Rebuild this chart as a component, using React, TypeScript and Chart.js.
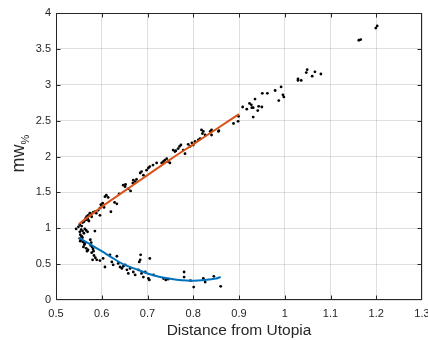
import React, { useEffect, useRef } from "react";
import { Chart, registerables } from "chart.js";

Chart.register(...registerables);

const xTickValues = [0.5, 0.6, 0.7, 0.8, 0.9, 1.0, 1.1, 1.2, 1.3];
const yTickValues = [0, 0.5, 1, 1.5, 2, 2.5, 3, 3.5, 4];
const xTickLabels = ["0.5", "0.6", "0.7", "0.8", "0.9", "1", "1.1", "1.2", "1.3"];
const yTickLabels = ["0", "0.5", "1", "1.5", "2", "2.5", "3", "3.5", "4"];

const xTitle = "Distance from Utopia";
const yTitleMain = "mw";
const yTitleSub = "%";

// Upper branch observations
const upperX = [
  0.544, 0.549, 0.552, 0.556, 0.558, 0.561, 0.563, 0.565, 0.566, 0.567, 0.569, 0.570, 0.571, 0.572, 0.574,
  0.576, 0.578, 0.581, 0.585, 0.588, 0.592, 0.596, 0.598, 0.600, 0.602, 0.605, 0.596, 0.607, 0.610, 0.614,
  0.620, 0.628, 0.633, 0.638, 0.647, 0.651, 0.652, 0.658, 0.663, 0.668, 0.669, 0.673, 0.676, 0.684, 0.687,
  0.691, 0.698, 0.702, 0.705, 0.712, 0.720, 0.731, 0.735, 0.738, 0.742, 0.745, 0.749, 0.756, 0.760, 0.762,
  0.767, 0.770, 0.773, 0.778, 0.782, 0.789, 0.793, 0.797, 0.800, 0.804, 0.811, 0.815, 0.818, 0.820, 0.822,
  0.826, 0.837, 0.840, 0.840, 0.855, 0.856, 0.888, 0.898, 0.899, 0.908, 0.917, 0.923, 0.927, 0.928, 0.931,
  0.931, 0.935, 0.941, 0.943, 0.950, 0.951, 0.962, 0.979, 0.987, 0.992, 0.996, 0.998, 1.029, 1.029, 1.036,
  1.047, 1.049, 1.060, 1.066, 1.079, 1.162, 1.166, 1.199, 1.202,
];
const upperY = [
  0.99, 1.02, 1.05, 1.03, 1.08, 1.09, 1.11, 1.14, 1.12, 1.16, 1.14, 1.18, 1.11, 1.10, 1.21,
  1.20, 1.16, 1.22, 1.23, 1.21, 1.25, 1.28, 1.33, 1.31, 1.35, 1.29, 1.18, 1.44, 1.46, 1.43,
  1.23, 1.36, 1.34, 1.48, 1.60, 1.58, 1.61, 1.55, 1.52, 1.63, 1.67, 1.65, 1.68, 1.77, 1.79,
  1.74, 1.81, 1.84, 1.86, 1.88, 1.91, 1.91, 1.93, 1.95, 1.97, 1.93, 1.91, 2.09, 2.07, 2.08,
  2.11, 2.14, 2.16, 2.09, 2.04, 2.17, 2.14, 2.19, 2.16, 2.21, 2.23, 2.25, 2.37, 2.32, 2.35,
  2.30, 2.35, 2.37, 2.30, 2.35, 2.36, 2.46, 2.49, 2.56, 2.69, 2.66, 2.74, 2.72, 2.68, 2.68,
  2.55, 2.80, 2.64, 2.70, 2.69, 2.88, 2.88, 2.92, 2.78, 2.97, 2.86, 2.83, 3.08, 3.06, 3.06,
  3.17, 3.21, 3.12, 3.18, 3.15, 3.62, 3.63, 3.79, 3.82,
];

// Lower branch observations
const lowerX = [
  0.552, 0.555, 0.558, 0.561, 0.563, 0.566, 0.569, 0.553, 0.556, 0.552, 0.555, 0.558, 0.553, 0.559, 0.562,
  0.560, 0.563, 0.566, 0.568, 0.570, 0.575, 0.577, 0.576, 0.579, 0.581, 0.578, 0.582, 0.585, 0.583, 0.586,
  0.589, 0.580, 0.596, 0.603, 0.607, 0.618, 0.622, 0.625, 0.633, 0.636, 0.640, 0.644, 0.647, 0.651, 0.655,
  0.658, 0.662, 0.669, 0.673, 0.680, 0.682, 0.684, 0.685, 0.687, 0.691, 0.695, 0.702, 0.704, 0.705, 0.713,
  0.735, 0.740, 0.745, 0.780, 0.780, 0.794, 0.801, 0.822, 0.826, 0.845, 0.860,
];
const lowerY = [
  0.95, 0.98, 0.96, 0.93, 0.99, 0.97, 0.95, 0.91, 0.89, 0.86, 0.84, 0.87, 0.82, 0.81, 0.77,
  0.74, 0.79, 0.72, 0.68, 0.70, 0.84, 0.80, 0.76, 0.74, 0.71, 0.66, 0.68, 0.96, 0.62, 0.59,
  0.56, 0.56, 0.55, 0.58, 0.46, 0.63, 0.53, 0.49, 0.61, 0.51, 0.46, 0.44, 0.47, 0.49, 0.42,
  0.37, 0.44, 0.39, 0.35, 0.42, 0.53, 0.56, 0.63, 0.37, 0.32, 0.39, 0.30, 0.28, 0.58, 0.35,
  0.30, 0.28, 0.29, 0.39, 0.32, 0.27, 0.18, 0.30, 0.25, 0.33, 0.19,
];

// Fitted curves
const fitUpperX = [0.55, 0.575, 0.6, 0.65, 0.7, 0.75, 0.8, 0.85, 0.9];
const fitUpperY = [1.06, 1.18, 1.30, 1.52, 1.74, 1.96, 2.17, 2.38, 2.59];
const fitLowerX = [0.55, 0.575, 0.6, 0.625, 0.65, 0.675, 0.7, 0.725, 0.75, 0.775, 0.8, 0.825, 0.85, 0.86];
const fitLowerY = [0.87, 0.775, 0.68, 0.58, 0.49, 0.43, 0.37, 0.325, 0.295, 0.275, 0.27, 0.28, 0.30, 0.32];

const FONT = "'Liberation Sans', Arial, Helvetica, sans-serif";
const AXIS_COLOR = "#262626";

const zip = (xs: number[], ys: number[]) => xs.map((x, i) => ({ x, y: ys[i] }));

const framePlugin = {
  id: "frame",
  afterDraw(chart: any) {
    const { ctx, chartArea } = chart;
    const xs = chart.scales.x;
    const ys = chart.scales.y;
    const L = Math.round(chartArea.left) + 0.5;
    const R = Math.round(chartArea.right) - 0.5;
    const T = Math.round(chartArea.top) + 0.5;
    const B = Math.round(chartArea.bottom) - 0.5;
    const tl = 4;
    ctx.save();
    ctx.globalAlpha = 1;
    ctx.setLineDash([]);
    ctx.strokeStyle = AXIS_COLOR;
    ctx.lineWidth = 1;
    ctx.beginPath();
    ctx.moveTo(L, T);
    ctx.lineTo(R, T);
    ctx.lineTo(R, B);
    ctx.lineTo(L, B);
    ctx.closePath();
    ctx.stroke();
    ctx.beginPath();
    for (const v of xTickValues) {
      let p = Math.round(xs.getPixelForValue(v)) + 0.5;
      if (p > R) p = R;
      if (p < L) p = L;
      ctx.moveTo(p, B);
      ctx.lineTo(p, B - tl);
      ctx.moveTo(p, T);
      ctx.lineTo(p, T + tl);
    }
    for (const v of yTickValues) {
      let p = Math.round(ys.getPixelForValue(v)) + 0.5;
      if (p > B) p = B;
      if (p < T) p = T;
      ctx.moveTo(L, p);
      ctx.lineTo(L + tl, p);
      ctx.moveTo(R, p);
      ctx.lineTo(R - tl, p);
    }
    ctx.stroke();

    ctx.fillStyle = AXIS_COLOR;
    // x title
    ctx.font = `15.5px ${FONT}`;
    ctx.textAlign = "center";
    ctx.textBaseline = "alphabetic";
    ctx.fillText(xTitle, (chartArea.left + chartArea.right) / 2, 335);
    // y title with subscript
    const mainFont = `18px ${FONT}`;
    const subFont = `11px ${FONT}`;
    ctx.font = mainFont;
    const w1 = ctx.measureText(yTitleMain).width;
    ctx.font = subFont;
    const w2 = ctx.measureText(yTitleSub).width;
    const total = w1 + w2;
    const cy = (chartArea.top + chartArea.bottom) / 2 - 3;
    ctx.translate(24, cy);
    ctx.rotate(-Math.PI / 2);
    ctx.textAlign = "left";
    ctx.font = mainFont;
    ctx.fillText(yTitleMain, -total / 2, 0);
    ctx.font = subFont;
    ctx.fillText(yTitleSub, -total / 2 + w1, 5);
    ctx.restore();
  },
};

export default function App() {
  const ref = useRef<HTMLCanvasElement | null>(null);
  useEffect(() => {
    if (!ref.current) return;
    const chart = new Chart(ref.current, {
      type: "scatter",
      data: {
        datasets: [
          {
            label: "fit upper",
            type: "line",
            data: zip(fitUpperX, fitUpperY),
            borderColor: "#D95319",
            borderWidth: 2,
            pointRadius: 0,
            showLine: true,
            fill: false,
            tension: 0.3,
            order: 0,
          } as any,
          {
            label: "fit lower",
            type: "line",
            data: zip(fitLowerX, fitLowerY),
            borderColor: "#0072BD",
            borderWidth: 2,
            pointRadius: 0,
            showLine: true,
            fill: false,
            tension: 0.3,
            order: 0,
          } as any,
          {
            label: "upper",
            data: zip(upperX, upperY),
            backgroundColor: "#000",
            borderWidth: 0,
            pointRadius: 1.4,
            order: 1,
          },
          {
            label: "lower",
            data: zip(lowerX, lowerY),
            backgroundColor: "#000",
            borderWidth: 0,
            pointRadius: 1.4,
            order: 1,
          },
        ],
      },
      options: {
        animation: false,
        responsive: false,
        devicePixelRatio: 1,
        layout: { padding: { left: 0, right: 6, top: 13, bottom: 0 } },
        plugins: { legend: { display: false }, tooltip: { enabled: false } },
        scales: {
          x: {
            type: "linear",
            min: 0.5,
            max: 1.3,
            afterBuildTicks: (s: any) => {
              s.ticks = xTickValues.map((v) => ({ value: v }));
            },
            afterFit: (s: any) => {
              s.height = 40;
              s.paddingLeft = 0;
              s.paddingRight = 0;
            },
            ticks: {
              padding: 7,
              color: AXIS_COLOR,
              font: { family: FONT, size: 11 },
              maxRotation: 0,
              autoSkip: false,
              callback: (_v: any, i: number) => xTickLabels[i],
            },
            grid: { color: "rgba(38,38,38,0.15)", drawTicks: false, lineWidth: 1 },
            border: { display: false },
          },
          y: {
            type: "linear",
            min: 0,
            max: 4,
            afterBuildTicks: (s: any) => {
              s.ticks = yTickValues.map((v) => ({ value: v }));
            },
            afterFit: (s: any) => {
              s.width = 56;
              s.paddingTop = 0;
              s.paddingBottom = 0;
            },
            ticks: {
              padding: 5,
              color: AXIS_COLOR,
              font: { family: FONT, size: 11 },
              autoSkip: false,
              callback: (_v: any, i: number) => yTickLabels[i],
            },
            grid: { color: "rgba(38,38,38,0.15)", drawTicks: false, lineWidth: 1 },
            border: { display: false },
          },
        },
      },
      plugins: [framePlugin],
    });
    return () => chart.destroy();
  }, []);
  return (
    <div style={{ position: "fixed", left: 0, top: 0, width: 428, height: 340, background: "#fff" }}>
      <canvas ref={ref} width={428} height={340} style={{ display: "block" }} />
    </div>
  );
}
